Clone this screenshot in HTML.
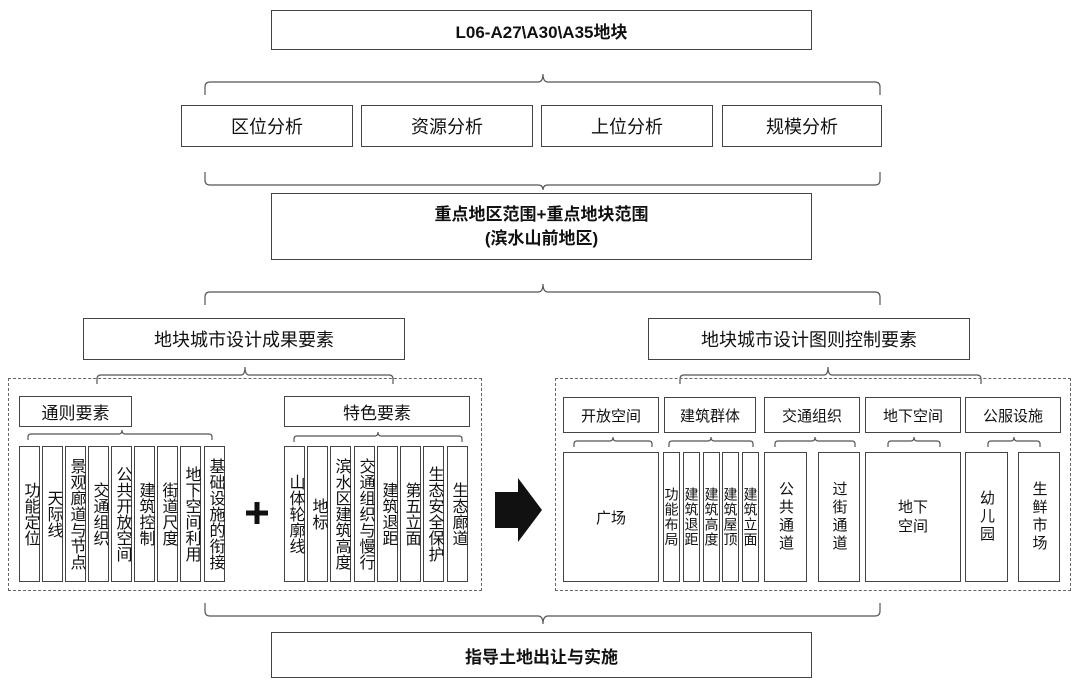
<!DOCTYPE html>
<html><head><meta charset="utf-8"><style>
body{margin:0;width:1080px;height:691px;background:#fff;position:relative;overflow:hidden;font-family:"Liberation Sans","Noto Sans CJK SC",sans-serif;color:#111}
.b{position:absolute;border:1.5px solid #444;box-sizing:border-box;display:flex;align-items:center;justify-content:center;text-align:center;background:#fff}
.v{writing-mode:vertical-rl;font-size:14px;line-height:1;letter-spacing:1px}
.L{font-size:16px;letter-spacing:0}
.d{position:absolute;border:1.2px dashed #666;box-sizing:border-box}
svg{position:absolute;left:0;top:0}
</style></head><body>
<svg width="1080" height="691" fill="none" stroke="#555" stroke-width="1.2">
<g>
<path d="M205,95 v-8 q0,-5 5,-5 h328 q5,0 5,-8 q0,8 5,8 h327 q5,0 5,5 v8"/>
<path d="M205,172 v8 q0,5 5,5 h328 q5,0 5,5 q0,-5 5,-5 h327 q5,0 5,-5 v-8"/>
<path d="M205,305 v-8 q0,-5 5,-5 h328 q5,0 5,-8 q0,8 5,8 h327 q5,0 5,5 v8"/>
<path d="M205,603 v8 q0,5 5,5 h328 q5,0 5,8 q0,-8 5,-8 h327 q5,0 5,-5 v-8"/>
<path d="M97,384 v-5 q0,-4 4,-4 h140 q4,0 4,-8 q0,8 4,8 h140 q4,0 4,4 v5"/>
<path d="M680,384 v-5 q0,-4 4,-4 h140 q4,0 4,-8 q0,8 4,8 h145 q4,0 4,4 v5"/>
<path d="M28,440 v-3 q0,-3 3,-3 h88 q3,0 3,-4 q0,4 3,4 h84 q3,0 3,3 v3"/>
<path d="M294,442 v-3 q0,-3 3,-3 h78 q3,0 3,-4 q0,4 3,4 h78 q3,0 3,3 v3"/>
<path d="M574,447 v-3 q0,-3 3,-3 h33 q3,0 3,-4 q0,4 3,4 h33 q3,0 3,3 v3"/>
<path d="M669,447 v-3 q0,-3 3,-3 h36 q3,0 3,-4 q0,4 3,4 h36 q3,0 3,3 v3"/>
<path d="M775,447 v-3 q0,-3 3,-3 h34 q3,0 3,-4 q0,4 3,4 h34 q3,0 3,3 v3"/>
<path d="M888,447 v-3 q0,-3 3,-3 h20 q3,0 3,-4 q0,4 3,4 h20 q3,0 3,3 v3"/>
<path d="M988,447 v-3 q0,-3 3,-3 h20 q3,0 3,-4 q0,4 3,4 h20 q3,0 3,3 v3"/>
</g>
<polygon points="495,492 518,492 518,478 542,510 518,542 518,528 495,528" fill="#111" stroke="none"/>
<path d="M246,513 h22 M257,502 v22" stroke="#111" stroke-width="5"/>
</svg>

<div class="b" style="left:271px;top:10px;width:541px;height:40px;font-weight:bold;font-size:17px">L06-A27\A30\A35地块</div>
<div class="b" style="left:181px;top:105px;width:172px;height:42px;font-size:18px">区位分析</div>
<div class="b" style="left:361px;top:105px;width:172px;height:42px;font-size:18px">资源分析</div>
<div class="b" style="left:541px;top:105px;width:172px;height:42px;font-size:18px">上位分析</div>
<div class="b" style="left:722px;top:105px;width:160px;height:42px;font-size:18px">规模分析</div>
<div class="b" style="left:271px;top:193px;width:541px;height:67px;font-weight:bold;font-size:17px;line-height:1.4">重点地区范围+重点地块范围<br>(滨水山前地区)</div>
<div class="b" style="left:83px;top:318px;width:322px;height:42px;font-size:18px">地块城市设计成果要素</div>
<div class="b" style="left:648px;top:318px;width:322px;height:42px;font-size:18px">地块城市设计图则控制要素</div>

<div class="d" style="left:8px;top:378px;width:474px;height:213px"></div>
<div class="d" style="left:555px;top:378px;width:516px;height:213px"></div>

<div class="b" style="left:19px;top:396px;width:113px;height:31px;font-size:17px">通则要素</div>
<div class="b" style="left:284px;top:396px;width:186px;height:31px;font-size:17px">特色要素</div>

<div class="b v L" style="left:19px;top:446px;width:21px;height:136px">功能定位</div>
<div class="b v L" style="left:42px;top:446px;width:21px;height:136px">天际线</div>
<div class="b v L" style="left:65px;top:446px;width:21px;height:136px">景观廊道与节点</div>
<div class="b v L" style="left:88px;top:446px;width:21px;height:136px">交通组织</div>
<div class="b v L" style="left:111px;top:446px;width:21px;height:136px">公共开放空间</div>
<div class="b v L" style="left:134px;top:446px;width:21px;height:136px">建筑控制</div>
<div class="b v L" style="left:157px;top:446px;width:21px;height:136px">街道尺度</div>
<div class="b v L" style="left:180px;top:446px;width:21px;height:136px">地下空间利用</div>
<div class="b v L" style="left:204px;top:446px;width:21px;height:136px">基础设施的衔接</div>

<div class="b v L" style="left:284px;top:446px;width:21px;height:136px">山体轮廓线</div>
<div class="b v L" style="left:307px;top:446px;width:21px;height:136px">地标</div>
<div class="b v L" style="left:330px;top:446px;width:21px;height:136px">滨水区建筑高度</div>
<div class="b v L" style="left:354px;top:446px;width:21px;height:136px">交通组织与慢行</div>
<div class="b v L" style="left:377px;top:446px;width:21px;height:136px">建筑退距</div>
<div class="b v L" style="left:400px;top:446px;width:21px;height:136px">第五立面</div>
<div class="b v L" style="left:423px;top:446px;width:21px;height:136px">生态安全保护</div>
<div class="b v L" style="left:447px;top:446px;width:21px;height:136px">生态廊道</div>

<div class="b" style="left:563px;top:397px;width:96px;height:36px;font-size:15px">开放空间</div>
<div class="b" style="left:664px;top:397px;width:92px;height:36px;font-size:15px">建筑群体</div>
<div class="b" style="left:764px;top:397px;width:96px;height:36px;font-size:15px">交通组织</div>
<div class="b" style="left:865px;top:397px;width:96px;height:36px;font-size:15px">地下空间</div>
<div class="b" style="left:965px;top:397px;width:96px;height:36px;font-size:15px">公服设施</div>

<div class="b" style="left:563px;top:452px;width:96px;height:130px;font-size:15px">广场</div>
<div class="b v" style="left:663px;top:452px;width:17px;height:130px">功能布局</div>
<div class="b v" style="left:683px;top:452px;width:17px;height:130px">建筑退距</div>
<div class="b v" style="left:703px;top:452px;width:17px;height:130px">建筑高度</div>
<div class="b v" style="left:722px;top:452px;width:17px;height:130px">建筑屋顶</div>
<div class="b v" style="left:742px;top:452px;width:17px;height:130px">建筑立面</div>
<div class="b v" style="left:764px;top:452px;width:43px;height:130px;font-size:15px;letter-spacing:3px">公共通道</div>
<div class="b v" style="left:818px;top:452px;width:42px;height:130px;font-size:15px;letter-spacing:3px">过街通道</div>
<div class="b" style="left:865px;top:452px;width:96px;height:130px;font-size:15px;line-height:1.3">地下<br>空间</div>
<div class="b v" style="left:965px;top:452px;width:43px;height:130px;font-size:15px;letter-spacing:3px">幼儿园</div>
<div class="b v" style="left:1018px;top:452px;width:42px;height:130px;font-size:15px;letter-spacing:3px">生鲜市场</div>

<div class="b" style="left:271px;top:632px;width:541px;height:46px;font-weight:bold;font-size:17px">指导土地出让与实施</div>
</body></html>
